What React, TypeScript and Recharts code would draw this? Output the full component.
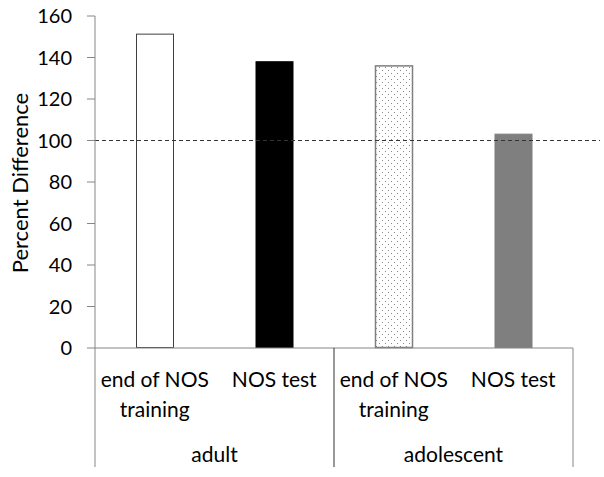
import React from "react";
import { BarChart, Bar, XAxis, YAxis, Cell, ReferenceLine, Label } from "recharts";

const conditions = ["end of NOS|training", "NOS test", "end of NOS|training", "NOS test"];
const groups = ["adult", "adult", "adolescent", "adolescent"];
const percentDiff = [151.5, 138.2, 136.2, 103.3];
const yTicks = [0, 20, 40, 60, 80, 100, 120, 140, 160];

const fills = ["#ffffff", "#000000", "url(#dotPattern)", "#7f7f7f"];
const strokes = ["#404040", "#000000", "#7f7f7f", "#7f7f7f"];

const data = conditions.map((c, i) => ({ key: i, label: c, group: groups[i], value: percentDiff[i] }));

const W = 604;
const H = 477;
const LEFT = 95;
const RIGHT = 31;
const TOP = 16;
const BOTTOM = 129;
const BAND = (W - LEFT - RIGHT) / conditions.length;
const FONT = "Lato, 'Open Sans', sans-serif";
const AXIS = "#868686";

const XTick = (props: any) => {
  const { x, y, index } = props;
  const lines = conditions[index].split("|");
  const items: any[] = [];
  lines.forEach((l, j) => {
    items.push(
      <text key={"t" + j} x={x} y={y + 30 + j * 30} textAnchor="middle" dominantBaseline="central" fontSize={21} fill="#000" fontFamily={FONT}>
        {l}
      </text>
    );
  });
  if (index % 2 === 0) {
    items.push(<line key="sepL" x1={x - BAND / 2} x2={x - BAND / 2} y1={y} y2={y + 119} stroke={index === 0 ? AXIS : "#333"} strokeWidth={1} />);
    items.push(
      <text key="g" x={x + BAND / 2} y={y + 105} textAnchor="middle" dominantBaseline="central" fontSize={21} fill="#000" fontFamily={FONT}>
        {groups[index]}
      </text>
    );
  }
  if (index === conditions.length - 1) {
    items.push(<line key="sepR" x1={x + BAND / 2} x2={x + BAND / 2} y1={y} y2={y + 119} stroke={AXIS} strokeWidth={1} />);
  }
  return <g>{items}</g>;
};

const BarShape = (props: any) => {
  const { x, y, width, height, index } = props;
  return (
    <g>
      {index === 2 && (
        <defs>
          <pattern id="dotPattern" width="6" height="6" patternUnits="userSpaceOnUse">
            <rect width="6" height="6" fill="#ffffff" />
            <rect x="1" y="1" width="1" height="1" fill="#8a8a8a" />
            <rect x="4" y="4" width="1" height="1" fill="#8a8a8a" />
          </pattern>
        </defs>
      )}
      <rect x={x + 0.5} y={y + 0.5} width={width - 1} height={height - 1} fill={fills[index]} stroke={strokes[index]} strokeWidth={index === 2 ? 1.5 : 1} />
    </g>
  );
};

const RefShape = (props: any) => {
  const { x1, y1, x2, y2 } = props;
  return <line x1={x1} y1={y1} x2={x2 + 27} y2={y2} stroke="#333" strokeWidth={1} strokeDasharray="4 3" />;
};

const YLabel = (props: any) => {
  const vb = props.viewBox || {};
  const cy = (vb.y ?? TOP) + (vb.height ?? 332) / 2 + 1;
  const cx = 19;
  return (
    <text x={cx} y={cy} transform={`rotate(-90 ${cx} ${cy})`} textAnchor="middle" dominantBaseline="central" fontSize={22} fill="#000" fontFamily={FONT}>
      Percent Difference
    </text>
  );
};

export default function App() {
  return (
    <div style={{ position: "absolute", left: 0, top: 0, width: W, height: H, background: "#fff" }}>
      <BarChart width={W} height={H} data={data} margin={{ top: TOP, right: RIGHT, bottom: 0, left: 0 }}>
        <XAxis
          dataKey="key"
          type="category"
          height={BOTTOM}
          tick={<XTick />}
          tickLine={false}
          tickSize={0}
          tickMargin={0}
          interval={0}
          axisLine={{ stroke: AXIS }}
        />
        <YAxis
          width={LEFT}
          domain={[0, 160]}
          ticks={yTicks}
          interval={0}
          tickSize={8}
          tickMargin={15}
          axisLine={{ stroke: AXIS }}
          tickLine={{ stroke: AXIS }}
          tick={{ fontSize: 20, fill: "#000", fontFamily: FONT }}
        >
          <Label content={<YLabel />} />
        </YAxis>
        <ReferenceLine y={100} shape={<RefShape />} />
        <Bar dataKey="value" barSize={38} isAnimationActive={false} shape={<BarShape />}>
          {data.map((d, i) => (
            <Cell key={i} fill={fills[i]} />
          ))}
        </Bar>
      </BarChart>
    </div>
  );
}
